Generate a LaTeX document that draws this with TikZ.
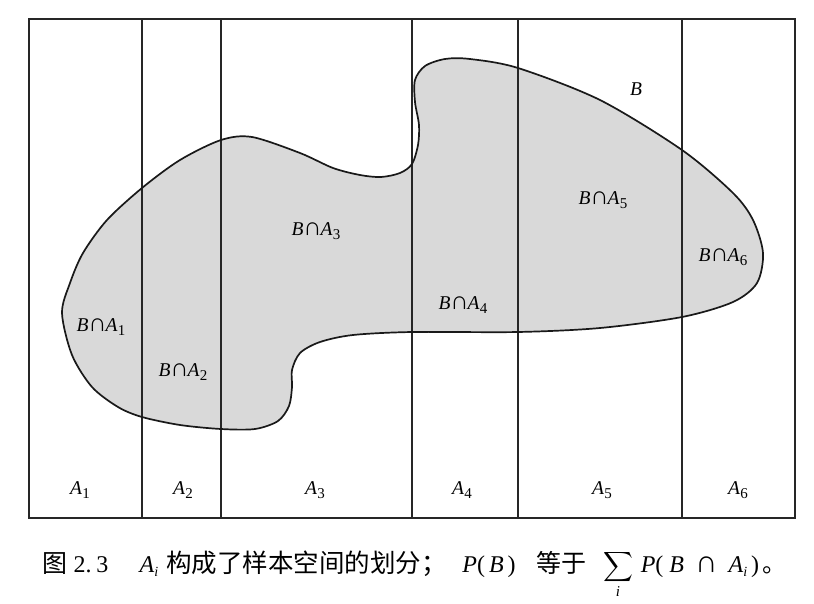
\documentclass[tikz,border=0pt]{standalone}
\usepackage{amsmath}
\usepackage{fontspec}
\setmainfont{Liberation Serif}
\newfontfamily\cjk{Noto Sans CJK SC}
\newcommand\subx[1]{\kern0.3pt\raisebox{-4.5pt}{\fontsize{15}{15}\selectfont #1}}
\newcommand\bigcapx{\scalebox{1.3}{∩}}
\newcommand\BAlab[1]{\textit{B}\kern-0.3pt\bigcapx\kern-1pt\textit{A}\subx{#1}}
\newcommand\Alab[1]{\textit{A}\subx{#1}}
\begin{document}
\begin{tikzpicture}[x=1pt,y=-1pt,
  grid/.style={line width=1.3pt, draw=black!85},
  blob/.style={line width=1.7pt, draw=black!90},
  lab/.style={font=\fontsize{19.5}{21}\selectfont, inner sep=0pt},
  captxt/.style={font=\fontsize{24}{28}\selectfont, inner sep=0pt, anchor=base}]
\useasboundingbox (0,0) rectangle (814,603);
\def\blobpts{(62,313) (70,283) (83,253) (107,220) (142,188) (180,160) (221,140) (252,137) (300,153) (333,168) (360,175) (381,177) (400,173) (412,164) (418,145) (419,125) (415,102) (415,80) (425,66) (445,59) (470,59) (518,68) (600,100) (682,150) (733,193) (753,220) (763,253) (757,283) (733,302) (682,317) (600,328) (518,332) (412,332) (353,335) (320,342) (300,353) (292,370) (292,387) (289,406) (278,421) (255,429) (221,429) (180,425) (142,417) (118,407) (92,387) (72,355)}
\fill[black!15] plot[smooth cycle, tension=0.5] coordinates {\blobpts};
\draw[grid] (29,19) rectangle (795,518);
\foreach \x in {142,221,412,518,682} \draw[grid] (\x,19) -- (\x,518);
\draw[blob] plot[smooth cycle, tension=0.5] coordinates {\blobpts};
\node[lab] (b1) at (101,327) {\BAlab{1}};
\node[lab] (b2) at (183,372) {\BAlab{2}};
\node[lab] (b3) at (316,231) {\BAlab{3}};
\node[lab] (b4) at (463,305) {\BAlab{4}};
\node[lab] (b5) at (603,200) {\BAlab{5}};
\node[lab] (b6) at (723,257) {\BAlab{6}};
\node[lab] (B) at (636,89) {\textit{B}};
\node[lab] (a1) at (80,490) {\Alab{1}};
\node[lab] (a2) at (183,490) {\Alab{2}};
\node[lab] (a3) at (315,490) {\Alab{3}};
\node[lab] (a4) at (462,490) {\Alab{4}};
\node[lab] (a5) at (602,490) {\Alab{5}};
\node[lab] (a6) at (738,490) {\Alab{6}};
\node[captxt] (c1) at (55,572) {\cjk\fontsize{25}{28}\selectfont 图};
\node[captxt] (c2) at (91,572) {2.\hspace{5pt}3};
\node[captxt] (c3) at (149,572) {\textit{A}\raisebox{-4pt}{\fontsize{14}{14}\selectfont\textit{i}}};
\node[captxt, anchor=base west] (c4) at (166,572) {\cjk\fontsize{25.5}{28}\selectfont 构成了样本空间的划分；};
\node[captxt] (c5) at (489,572) {\textit{P}(\,\textit{B}\,)};
\node[captxt] (c6) at (561,572) {\cjk\fontsize{25}{28}\selectfont 等于};
\node[captxt, font=\fontsize{21.5}{24}\selectfont] (c7) at (618,572) {$\displaystyle\sum_{\mathit{i}}$};
\node[captxt] (c8) at (700,572) {\textit{P}(\hspace{6pt}\textit{B}\hspace{11pt}\bigcapx\hspace{11pt}\textit{A}\raisebox{-4pt}{\fontsize{14}{14}\selectfont\textit{i}}\hspace{4pt})};
\node[captxt, anchor=base west] (c9) at (762,572) {\cjk 。};
\end{tikzpicture}
\end{document}
